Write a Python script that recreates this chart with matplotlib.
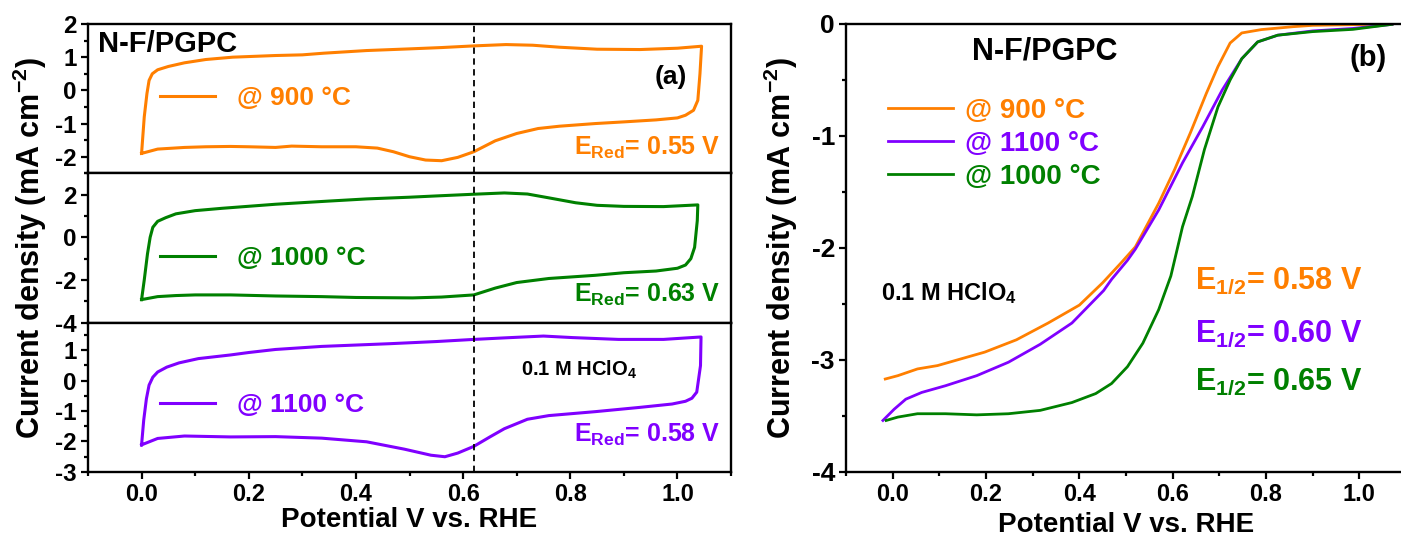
import matplotlib
matplotlib.use("Agg")
import matplotlib.pyplot as plt
from matplotlib.ticker import MultipleLocator, FixedLocator

plt.rcParams['font.family'] = ['Liberation Sans', 'DejaVu Sans']
plt.rcParams['font.weight'] = 'bold'
plt.rcParams['axes.labelweight'] = 'bold'
plt.rcParams['axes.unicode_minus'] = False
plt.rcParams['mathtext.fontset'] = 'custom'
plt.rcParams['mathtext.rm'] = 'Liberation Sans:bold'
plt.rcParams['mathtext.it'] = 'Liberation Sans:bold'
plt.rcParams['mathtext.bf'] = 'Liberation Sans:bold'

ORANGE = '#FF7F00'
GREEN = '#008000'
PURPLE = '#8000FF'

# (a) CV loops: anodic sweep 0 -> 1.05 V, then back to 0 V
cv900_v = [0.000, 0.005, 0.010, 0.014, 0.020, 0.030, 0.050, 0.080, 0.120, 0.170, 0.250, 0.300,
           0.340, 0.420, 0.500, 0.560, 0.620, 0.680, 0.730, 0.780, 0.850, 0.930, 1.000, 1.045,
           1.042, 1.038, 1.030, 1.015, 1.000, 0.960, 0.900, 0.847, 0.780, 0.740, 0.700, 0.660,
           0.620, 0.590, 0.560, 0.530, 0.500, 0.470, 0.440, 0.400, 0.336, 0.280, 0.250, 0.200,
           0.166, 0.120, 0.080, 0.030, 0.000]
cv900_j = [-1.90, -0.80, -0.10, 0.30, 0.50, 0.62, 0.72, 0.83, 0.93, 1.00, 1.05, 1.07,
           1.12, 1.20, 1.25, 1.29, 1.34, 1.38, 1.36, 1.30, 1.24, 1.23, 1.27, 1.33,
           0.50, -0.30, -0.60, -0.75, -0.83, -0.89, -0.95, -1.00, -1.08, -1.15, -1.30, -1.52,
           -1.85, -2.02, -2.12, -2.10, -2.00, -1.85, -1.74, -1.70, -1.70, -1.68, -1.72, -1.70,
           -1.69, -1.70, -1.72, -1.77, -1.90]

cv1000_v = [0.000, 0.005, 0.011, 0.016, 0.021, 0.030, 0.045, 0.064, 0.100, 0.150, 0.250, 0.350,
            0.420, 0.500, 0.550, 0.620, 0.677, 0.720, 0.760, 0.810, 0.850, 0.900, 0.974, 1.038,
            1.037, 1.032, 1.025, 1.015, 1.000, 0.960, 0.900, 0.847, 0.760, 0.700, 0.660, 0.620,
            0.560, 0.506, 0.400, 0.336, 0.250, 0.166, 0.100, 0.064, 0.030, 0.000]
cv1000_j = [-2.92, -2.00, -0.78, 0.00, 0.47, 0.75, 0.92, 1.10, 1.25, 1.36, 1.55, 1.70,
            1.80, 1.88, 1.94, 2.02, 2.08, 2.03, 1.85, 1.62, 1.50, 1.45, 1.44, 1.52,
            0.78, -0.47, -1.00, -1.30, -1.45, -1.58, -1.66, -1.78, -1.93, -2.12, -2.38, -2.70,
            -2.80, -2.84, -2.82, -2.78, -2.75, -2.70, -2.70, -2.73, -2.78, -2.92]

cv1100_v = [0.000, 0.004, 0.009, 0.014, 0.021, 0.030, 0.047, 0.070, 0.106, 0.166, 0.200, 0.250,
            0.336, 0.464, 0.550, 0.620, 0.677, 0.750, 0.804, 0.890, 0.974, 1.044,
            1.043, 1.036, 1.027, 1.015, 0.990, 0.930, 0.847, 0.760, 0.720, 0.677, 0.650, 0.620,
            0.590, 0.566, 0.540, 0.490, 0.420, 0.336, 0.250, 0.166, 0.080, 0.030, 0.000]
cv1100_j = [-2.11, -1.30, -0.60, -0.15, 0.11, 0.28, 0.44, 0.58, 0.72, 0.84, 0.92, 1.02,
            1.12, 1.21, 1.28, 1.35, 1.40, 1.46, 1.41, 1.35, 1.35, 1.43,
            0.49, -0.38, -0.58, -0.68, -0.77, -0.88, -1.02, -1.15, -1.27, -1.58, -1.85, -2.16,
            -2.38, -2.50, -2.45, -2.25, -2.01, -1.89, -1.84, -1.85, -1.82, -1.90, -2.11]

e_red_line = 0.62

# (b) LSV curves
lsv900_v = [-0.016, 0.011, 0.053, 0.096, 0.138, 0.197, 0.265, 0.333, 0.400, 0.450, 0.490, 0.520,
            0.570, 0.604, 0.638, 0.672, 0.697, 0.723, 0.748, 0.790, 0.858, 0.900, 0.986, 1.070]
lsv900_j = [-3.17, -3.14, -3.08, -3.05, -3.00, -2.93, -2.82, -2.67, -2.51, -2.31, -2.13, -1.99,
            -1.60, -1.30, -0.97, -0.62, -0.38, -0.17, -0.08, -0.05, -0.024, -0.012, -0.006, 0.0]

lsv1100_v = [-0.021, 0.003, 0.028, 0.062, 0.113, 0.180, 0.248, 0.316, 0.384, 0.452, 0.469, 0.503,
             0.520, 0.570, 0.621, 0.664, 0.706, 0.748, 0.782, 0.825, 0.900, 0.986, 1.070]
lsv1100_j = [-3.54, -3.44, -3.35, -3.29, -3.23, -3.14, -3.02, -2.86, -2.67, -2.38, -2.28, -2.11,
             -2.01, -1.66, -1.24, -0.92, -0.59, -0.31, -0.16, -0.10, -0.062, -0.04, -0.003]

lsv1000_v = [-0.014, 0.011, 0.053, 0.113, 0.180, 0.248, 0.316, 0.384, 0.435, 0.469, 0.503, 0.536,
             0.570, 0.596, 0.621, 0.642, 0.668, 0.697, 0.723, 0.748, 0.782, 0.825, 0.900, 0.986, 1.070]
lsv1000_j = [-3.54, -3.51, -3.48, -3.48, -3.49, -3.48, -3.45, -3.38, -3.30, -3.21, -3.06, -2.85,
             -2.55, -2.25, -1.81, -1.54, -1.12, -0.74, -0.50, -0.31, -0.16, -0.10, -0.068, -0.048, -0.003]

fig = plt.figure(figsize=(14.01, 5.44), dpi=100)

# ---- panel (a): three stacked CVs ----
left, width = 0.0628, 0.459
bottom, total_h = 0.1324, 0.8235
h = total_h / 3

panels = [
    (cv900_v, cv900_j, ORANGE, '@ 900 °C', (-2.5, 2), [-2, -1, 0, 1, 2], 0.5, 'E$_{Red}$= 0.55 V', 0.169, 0.504),
    (cv1000_v, cv1000_j, GREEN, '@ 1000 °C', (-4, 3), [-4, -2, 0, 2], 1, 'E$_{Red}$= 0.63 V', 0.185, 0.433),
    (cv1100_v, cv1100_j, PURPLE, '@ 1100 °C', (-3, 1.9), [-3, -2, -1, 0, 1], 0.5, 'E$_{Red}$= 0.58 V', 0.248, 0.449),
]

axes_a = []
for i, (v, j, col, lab, ylim, yt, ymin, etxt, ey, legy) in enumerate(panels):
    ax = fig.add_axes([left, bottom + (2 - i) * h, width, h])
    ax.plot(v, j, color=col, lw=2.2, label=lab)
    ax.axvline(e_red_line, color='k', ls=(0, (3.5, 2.5)), lw=1.3)
    ax.set_xlim(-0.1, 1.1)
    ax.set_ylim(*ylim)
    ax.yaxis.set_major_locator(FixedLocator(yt))
    ax.yaxis.set_minor_locator(MultipleLocator(ymin))
    ax.xaxis.set_major_locator(MultipleLocator(0.2))
    ax.xaxis.set_minor_locator(MultipleLocator(0.1))
    ax.tick_params(which='both', direction='out', width=1.6, labelsize=17.5, top=False, right=False, pad=3)
    ax.tick_params(which='major', length=5)
    ax.tick_params(which='minor', length=3)
    if i < 2:
        ax.tick_params(axis='x', which='both', bottom=False, labelbottom=False)
    for s in ax.spines.values():
        s.set_linewidth(1.7)
    ax.legend(loc='center left', bbox_to_anchor=(0.112, legy), frameon=False,
              fontsize=19, handlelength=2.1, handletextpad=0.8, borderpad=0,
              borderaxespad=0, labelcolor='linecolor')
    ax.text(0.756, ey, etxt, transform=ax.transAxes, color=col, fontsize=18,
            ha='left', va='center')
    axes_a.append(ax)

axes_a[0].text(0.016, 0.866, 'N-F/PGPC', transform=axes_a[0].transAxes, fontsize=21,
               ha='left', va='center')
axes_a[0].text(0.907, 0.645, '(a)', transform=axes_a[0].transAxes, fontsize=19,
               ha='center', va='center')
axes_a[2].text(0.673, 0.683, '0.1 M HClO$_4$', transform=axes_a[2].transAxes, fontsize=14.5,
               ha='left', va='center')
axes_a[2].tick_params(axis='x', labelsize=17)
axes_a[2].set_xlabel('Potential V vs. RHE', fontsize=20)
axes_a[2].xaxis.set_label_coords(0.5, -0.235)
fig.text(0.021, bottom + total_h / 2, 'Current density (mA cm$^{-2}$)', rotation=90,
         fontsize=22, ha='center', va='center')

# ---- panel (b): LSV ----
axb = fig.add_axes([0.6039, 0.1324, 0.3997, 0.8235])
axb.plot(lsv900_v, lsv900_j, color=ORANGE, lw=2.0, label='@ 900 °C')
axb.plot(lsv1100_v, lsv1100_j, color=PURPLE, lw=2.0, label='@ 1100 °C')
axb.plot(lsv1000_v, lsv1000_j, color=GREEN, lw=2.0, label='@ 1000 °C')
axb.set_xlim(-0.1, 1.1)
axb.set_ylim(-4, 0)
axb.xaxis.set_major_locator(MultipleLocator(0.2))
axb.xaxis.set_minor_locator(MultipleLocator(0.1))
axb.yaxis.set_major_locator(MultipleLocator(1))
axb.yaxis.set_minor_locator(MultipleLocator(0.5))
axb.tick_params(which='both', direction='out', width=1.6, top=False, right=False, pad=3)
axb.tick_params(which='major', length=5)
axb.tick_params(which='minor', length=3)
axb.tick_params(axis='x', labelsize=17)
axb.tick_params(axis='y', labelsize=19)
for s in axb.spines.values():
    s.set_linewidth(1.7)
axb.set_xlabel('Potential V vs. RHE', fontsize=20)
axb.xaxis.set_label_coords(0.5, -0.09)
axb.set_ylabel('Current density (mA cm$^{-2}$)', fontsize=22)
axb.yaxis.set_label_coords(-0.082, 0.5)
axb.legend(loc='center left', bbox_to_anchor=(0.075, 0.732), frameon=False, fontsize=20,
           handlelength=2.35, handletextpad=0.43, labelspacing=0.25, borderpad=0,
           borderaxespad=0, labelcolor='linecolor')
axb.text(0.225, 0.9375, 'N-F/PGPC', transform=axb.transAxes, fontsize=22, ha='left', va='center')
axb.text(0.932, 0.924, '(b)', transform=axb.transAxes, fontsize=21, ha='center', va='center')
axb.text(0.0625, 0.40, '0.1 M HClO$_4$', transform=axb.transAxes, fontsize=17,
         ha='left', va='center')
for txt, col, y in [('E$_{1/2}$= 0.58 V', ORANGE, 0.426),
                    ('E$_{1/2}$= 0.60 V', PURPLE, 0.308),
                    ('E$_{1/2}$= 0.65 V', GREEN, 0.201)]:
    axb.text(0.623, y, txt, transform=axb.transAxes, color=col, fontsize=22,
             ha='left', va='center')

fig.savefig('out.png', dpi=100)
